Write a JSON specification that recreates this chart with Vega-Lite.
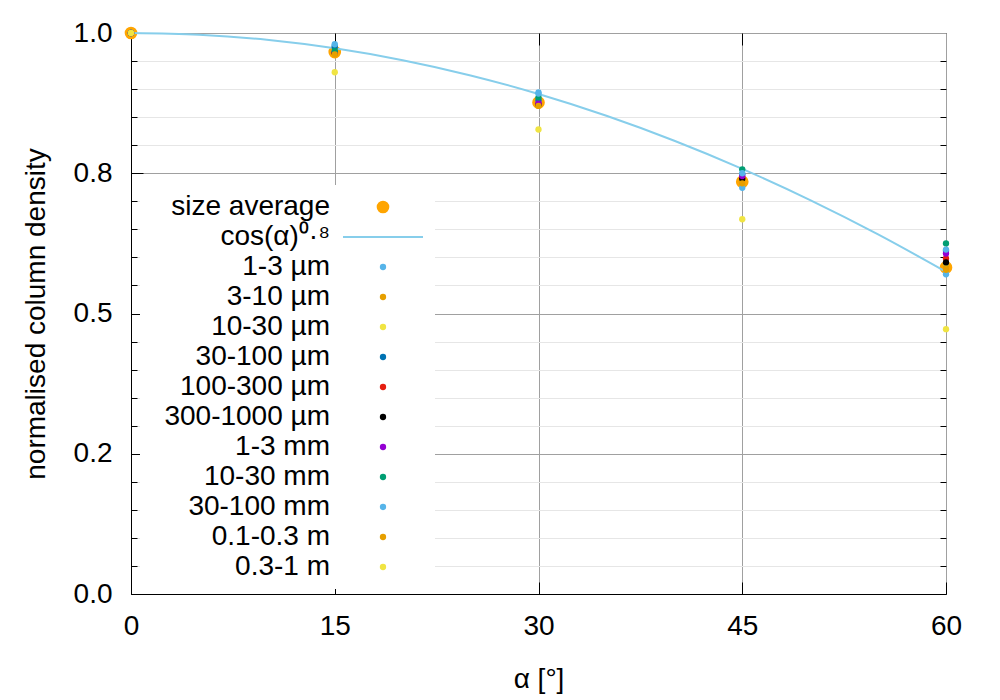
{
  "$schema": "https://vega.github.io/schema/vega-lite/v6.json",
  "width": 815,
  "height": 561,
  "autosize": {"type": "none"},
  "padding": {"left": 131, "top": 33, "right": 54, "bottom": 106},
  "background": "white",
  "config": {
    "view": {"stroke": "black", "strokeWidth": 1},
    "font": "Liberation Sans",
    "axis": {"labelFont": "Liberation Sans", "titleFont": "Liberation Sans", "labelColor": "black", "titleColor": "black", "domainColor": "black", "tickColor": "black", "labelFontSize": 28, "titleFontSize": 28, "titleFontWeight": "normal", "labelFlush": false, "labelOverlap": false}
  },
  "data": {
    "values": [
      {"alpha": 0, "value": 1.0, "series": "size average", "kind": "avg"},
      {"alpha": 15, "value": 0.966, "series": "size average", "kind": "avg"},
      {"alpha": 30, "value": 0.876, "series": "size average", "kind": "avg"},
      {"alpha": 45, "value": 0.735, "series": "size average", "kind": "avg"},
      {"alpha": 60, "value": 0.582, "series": "size average", "kind": "avg"},

      {"alpha": 0, "value": 1.0, "series": "cos(α)⁰·⁸", "kind": "fit"},
      {"alpha": 5, "value": 0.99695, "series": "cos(α)⁰·⁸", "kind": "fit"},
      {"alpha": 10, "value": 0.98783, "series": "cos(α)⁰·⁸", "kind": "fit"},
      {"alpha": 15, "value": 0.97262, "series": "cos(α)⁰·⁸", "kind": "fit"},
      {"alpha": 20, "value": 0.95146, "series": "cos(α)⁰·⁸", "kind": "fit"},
      {"alpha": 25, "value": 0.92432, "series": "cos(α)⁰·⁸", "kind": "fit"},
      {"alpha": 30, "value": 0.8913, "series": "cos(α)⁰·⁸", "kind": "fit"},
      {"alpha": 35, "value": 0.85249, "series": "cos(α)⁰·⁸", "kind": "fit"},
      {"alpha": 40, "value": 0.80797, "series": "cos(α)⁰·⁸", "kind": "fit"},
      {"alpha": 45, "value": 0.75786, "series": "cos(α)⁰·⁸", "kind": "fit"},
      {"alpha": 50, "value": 0.70221, "series": "cos(α)⁰·⁸", "kind": "fit"},
      {"alpha": 55, "value": 0.64103, "series": "cos(α)⁰·⁸", "kind": "fit"},
      {"alpha": 60, "value": 0.57435, "series": "cos(α)⁰·⁸", "kind": "fit"},

      {"alpha": 0, "value": 1.0, "series": "1-3 µm", "kind": "bin"},
      {"alpha": 15, "value": 0.978, "series": "1-3 µm", "kind": "bin"},
      {"alpha": 30, "value": 0.894, "series": "1-3 µm", "kind": "bin"},
      {"alpha": 45, "value": 0.724, "series": "1-3 µm", "kind": "bin"},
      {"alpha": 60, "value": 0.570, "series": "1-3 µm", "kind": "bin"},
      {"alpha": 0, "value": 1.0, "series": "3-10 µm", "kind": "bin"},
      {"alpha": 15, "value": 0.972, "series": "3-10 µm", "kind": "bin"},
      {"alpha": 30, "value": 0.882, "series": "3-10 µm", "kind": "bin"},
      {"alpha": 45, "value": 0.738, "series": "3-10 µm", "kind": "bin"},
      {"alpha": 60, "value": 0.585, "series": "3-10 µm", "kind": "bin"},
      {"alpha": 0, "value": 1.0, "series": "10-30 µm", "kind": "bin"},
      {"alpha": 15, "value": 0.968, "series": "10-30 µm", "kind": "bin"},
      {"alpha": 30, "value": 0.878, "series": "10-30 µm", "kind": "bin"},
      {"alpha": 45, "value": 0.740, "series": "10-30 µm", "kind": "bin"},
      {"alpha": 60, "value": 0.590, "series": "10-30 µm", "kind": "bin"},
      {"alpha": 0, "value": 1.0, "series": "30-100 µm", "kind": "bin"},
      {"alpha": 15, "value": 0.975, "series": "30-100 µm", "kind": "bin"},
      {"alpha": 30, "value": 0.880, "series": "30-100 µm", "kind": "bin"},
      {"alpha": 45, "value": 0.748, "series": "30-100 µm", "kind": "bin"},
      {"alpha": 60, "value": 0.612, "series": "30-100 µm", "kind": "bin"},
      {"alpha": 0, "value": 1.0, "series": "100-300 µm", "kind": "bin"},
      {"alpha": 15, "value": 0.966, "series": "100-300 µm", "kind": "bin"},
      {"alpha": 30, "value": 0.874, "series": "100-300 µm", "kind": "bin"},
      {"alpha": 45, "value": 0.742, "series": "100-300 µm", "kind": "bin"},
      {"alpha": 60, "value": 0.598, "series": "100-300 µm", "kind": "bin"},
      {"alpha": 0, "value": 1.0, "series": "300-1000 µm", "kind": "bin"},
      {"alpha": 15, "value": 0.964, "series": "300-1000 µm", "kind": "bin"},
      {"alpha": 30, "value": 0.872, "series": "300-1000 µm", "kind": "bin"},
      {"alpha": 45, "value": 0.740, "series": "300-1000 µm", "kind": "bin"},
      {"alpha": 60, "value": 0.591, "series": "300-1000 µm", "kind": "bin"},
      {"alpha": 0, "value": 1.0, "series": "1-3 mm", "kind": "bin"},
      {"alpha": 15, "value": 0.966, "series": "1-3 mm", "kind": "bin"},
      {"alpha": 30, "value": 0.875, "series": "1-3 mm", "kind": "bin"},
      {"alpha": 45, "value": 0.745, "series": "1-3 mm", "kind": "bin"},
      {"alpha": 60, "value": 0.607, "series": "1-3 mm", "kind": "bin"},
      {"alpha": 0, "value": 1.0, "series": "10-30 mm", "kind": "bin"},
      {"alpha": 15, "value": 0.968, "series": "10-30 mm", "kind": "bin"},
      {"alpha": 30, "value": 0.885, "series": "10-30 mm", "kind": "bin"},
      {"alpha": 45, "value": 0.757, "series": "10-30 mm", "kind": "bin"},
      {"alpha": 60, "value": 0.625, "series": "10-30 mm", "kind": "bin"},
      {"alpha": 0, "value": 1.0, "series": "30-100 mm", "kind": "bin"},
      {"alpha": 15, "value": 0.980, "series": "30-100 mm", "kind": "bin"},
      {"alpha": 30, "value": 0.892, "series": "30-100 mm", "kind": "bin"},
      {"alpha": 45, "value": 0.750, "series": "30-100 mm", "kind": "bin"},
      {"alpha": 60, "value": 0.614, "series": "30-100 mm", "kind": "bin"},
      {"alpha": 0, "value": 1.0, "series": "0.1-0.3 m", "kind": "bin"},
      {"alpha": 15, "value": 0.962, "series": "0.1-0.3 m", "kind": "bin"},
      {"alpha": 30, "value": 0.870, "series": "0.1-0.3 m", "kind": "bin"},
      {"alpha": 45, "value": 0.732, "series": "0.1-0.3 m", "kind": "bin"},
      {"alpha": 60, "value": 0.578, "series": "0.1-0.3 m", "kind": "bin"},
      {"alpha": 0, "value": 1.0, "series": "0.3-1 m", "kind": "bin"},
      {"alpha": 15, "value": 0.930, "series": "0.3-1 m", "kind": "bin"},
      {"alpha": 30, "value": 0.828, "series": "0.3-1 m", "kind": "bin"},
      {"alpha": 45, "value": 0.668, "series": "0.3-1 m", "kind": "bin"},
      {"alpha": 60, "value": 0.472, "series": "0.3-1 m", "kind": "bin"}
    ]
  },
  "resolve": {"axis": {"x": "independent", "y": "independent"}},
  "layer": [
    {
      "transform": [{"filter": "datum.kind === 'avg'"}],
      "mark": {"type": "point", "filled": true, "opacity": 1, "size": 160, "shape": "circle"},
      "encoding": {
        "x": {"field": "alpha", "type": "quantitative", "scale": {"domain": [0, 60], "nice": false},
          "axis": {"values": [0, 15, 30, 45, 60], "grid": true, "gridColor": "#a0a0a0", "tickSize": -12, "labelPadding": 30, "title": "α [°]", "titlePadding": 25}},
        "y": {"field": "value", "type": "quantitative", "scale": {"domain": [0, 1], "nice": false, "zero": false},
          "axis": {"values": [0, 0.25, 0.5, 0.75, 1], "labelExpr": "datum.value == 0.25 ? '0.2' : format(datum.value, '.1f')", "grid": true, "gridColor": "#a0a0a0", "tickSize": -12, "labelPadding": 31, "title": "normalised column density", "titlePadding": 23}},
        "color": {"field": "series", "type": "nominal",
          "scale": {
            "domain": ["size average", "cos(α)⁰·⁸", "1-3 µm", "3-10 µm", "10-30 µm", "30-100 µm", "100-300 µm", "300-1000 µm", "1-3 mm", "10-30 mm", "30-100 mm", "0.1-0.3 m", "0.3-1 m"],
            "range": ["#ffa500", "#87ceeb", "#56b4e9", "#e69f00", "#f0e442", "#0072b2", "#e51e10", "#000000", "#9400d3", "#009e73", "#56b4e9", "#e69f00", "#f0e442"]
          },
          "legend": {
            "orient": "none", "legendX": 9, "legendY": 152, "title": null,
            "labelFont": "Liberation Sans", "labelFontSize": 28, "labelColor": "black", "labelAlign": "right", "labelOffset": 154, "labelLimit": 0,
            "fillColor": "white", "padding": 8, "rowPadding": 2, "symbolSize": 40, "symbolOpacity": 1,
            "encode": {
              "symbols": {"update": {
                "x": {"value": 235},
                "shape": {"signal": "datum.value === 'cos(α)⁰·⁸' ? 'stroke' : 'circle'"},
                "size": {"signal": "datum.value === 'size average' ? 160 : (datum.value === 'cos(α)⁰·⁸' ? 6400 : 40)"},
                "fill": {"signal": "datum.value === 'cos(α)⁰·⁸' ? 'transparent' : scale('color', datum.value)"},
                "stroke": {"signal": "scale('color', datum.value)"},
                "strokeWidth": {"signal": "datum.value === 'cos(α)⁰·⁸' ? 2 : 0"},
                "opacity": {"value": 1}
              }}
            }
          }
        }
      }
    },
    {
      "transform": [{"filter": "datum.kind === 'fit'"}],
      "mark": {"type": "line", "strokeWidth": 2, "interpolate": "monotone"},
      "encoding": {
        "x": {"field": "alpha", "type": "quantitative",
          "axis": {"orient": "top", "values": [15, 30, 45], "labels": false, "tickSize": -12, "grid": false, "domain": false, "title": null}},
        "y": {"field": "value", "type": "quantitative",
          "axis": {"orient": "left", "values": [0.05, 0.1, 0.15, 0.2, 0.3, 0.35, 0.4, 0.45, 0.55, 0.6, 0.65, 0.7, 0.8, 0.85, 0.9, 0.95], "labels": false, "tickSize": -6, "grid": true, "gridColor": "#e6e6e6", "domain": false, "title": null}},
        "color": {"field": "series", "type": "nominal"}
      }
    },
    {
      "transform": [{"filter": "datum.kind === 'bin'"}],
      "mark": {"type": "point", "filled": true, "opacity": 1, "size": 40, "shape": "circle"},
      "encoding": {
        "x": {"field": "alpha", "type": "quantitative", "axis": null},
        "y": {"field": "value", "type": "quantitative",
          "axis": {"orient": "right", "values": [0.05, 0.1, 0.15, 0.2, 0.25, 0.3, 0.35, 0.4, 0.45, 0.5, 0.55, 0.6, 0.65, 0.7, 0.75, 0.8, 0.85, 0.9, 0.95], "labels": false, "tickSize": -6, "grid": false, "domain": false, "title": null}},
        "color": {"field": "series", "type": "nominal"}
      }
    }
  ]
}
